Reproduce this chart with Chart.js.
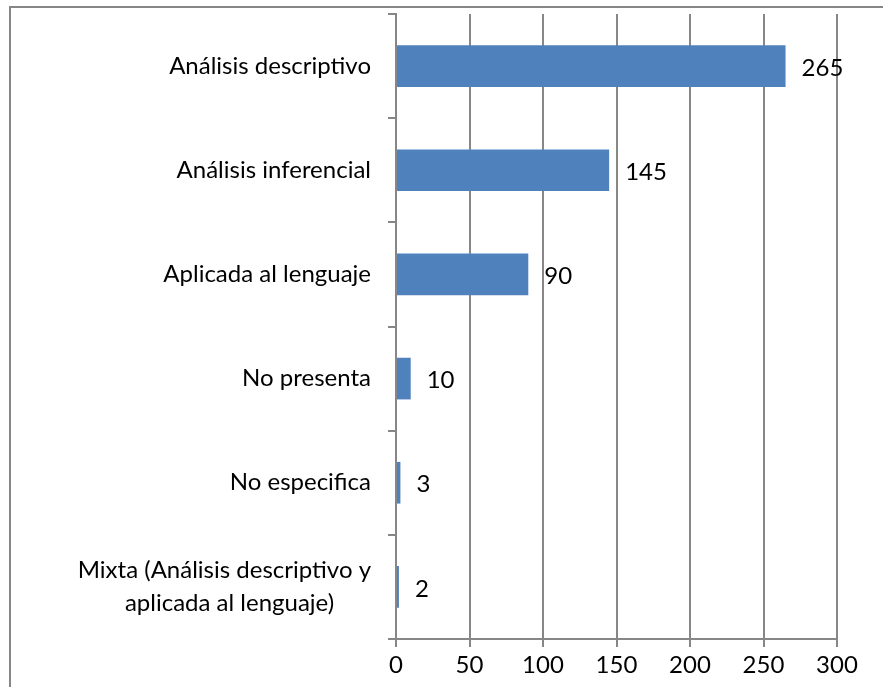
<!DOCTYPE html>
<html>
<head>
<meta charset="utf-8">
<script src="https://cdn.jsdelivr.net/npm/chart.js@4"></script>
<style>
    html, body { margin: 0; padding: 0; background: #fff; overflow: hidden; }
    .frame {
        position: absolute; left: 9px; top: 6px;
        width: 1000px; height: 1000px;
        border: 2px solid #878787;
    }
    .wrap { position: absolute; left: 0; top: 0; width: 883px; height: 687px; }
</style>
</head>
<body>
<div class="frame"></div>
<div class="wrap"><canvas id="chart" width="883" height="687"></canvas></div>
<script>
// Chart data
const categories = [
    'Análisis descriptivo',
    'Análisis inferencial',
    'Aplicada al lenguaje',
    'No presenta',
    'No especifica',
    ['Mixta (Análisis descriptivo y', 'aplicada al lenguaje)' + '\u00A0'.repeat(6)]
];
const counts = [265, 145, 90, 10, 3, 2];
const xTicks = [0, 50, 100, 150, 200, 250, 300];

const FONT = 'Lato, "Open Sans", sans-serif';

// value labels at the end of each bar
const barLabels = {
    id: 'barLabels',
    afterDatasetsDraw(chart) {
        const ctx = chart.ctx;
        const meta = chart.getDatasetMeta(0);
        ctx.save();
        ctx.font = '24px ' + FONT;
        ctx.fillStyle = '#000';
        ctx.textAlign = 'left';
        ctx.textBaseline = 'middle';
        meta.data.forEach((bar, i) => {
            ctx.fillText(String(counts[i]), bar.x + 16, bar.y + 2);
        });
        ctx.restore();
    }
};

document.addEventListener('DOMContentLoaded', () => {
    const ctx = document.getElementById('chart').getContext('2d');
    new Chart(ctx, {
        type: 'bar',
        data: {
            labels: categories,
            datasets: [{
                data: counts,
                backgroundColor: '#4F81BD',
                categoryPercentage: 0.4,
                barPercentage: 1
            }]
        },
        options: {
            indexAxis: 'y',
            responsive: false,
            animation: false,
            layout: { padding: { top: 14, right: 46, left: 0, bottom: 0 } },
            plugins: {
                legend: { display: false },
                tooltip: { enabled: false }
            },
            scales: {
                x: {
                    min: 0,
                    max: 300,
                    afterBuildTicks: axis => { axis.ticks = xTicks.map(v => ({ value: v })); },
                    afterFit: axis => { axis.height = 48; axis.paddingLeft = 0; axis.paddingRight = 0; },
                    border: { color: '#878787', width: 2 },
                    grid: { color: '#878787', lineWidth: 2, tickLength: 8 },
                    ticks: { color: '#000', font: { family: FONT, size: 24 }, padding: 4 }
                },
                y: {
                    afterFit: axis => { axis.width = 396; axis.paddingTop = 0; axis.paddingBottom = 0; },
                    border: { color: '#878787', width: 2 },
                    grid: { offset: true, drawOnChartArea: false, color: '#878787', lineWidth: 2, tickLength: 8 },
                    ticks: { color: '#000', font: { family: FONT, size: 24, lineHeight: 1.38 }, padding: 17 }
                }
            }
        },
        plugins: [barLabels]
    });
});
</script>
</body>
</html>
